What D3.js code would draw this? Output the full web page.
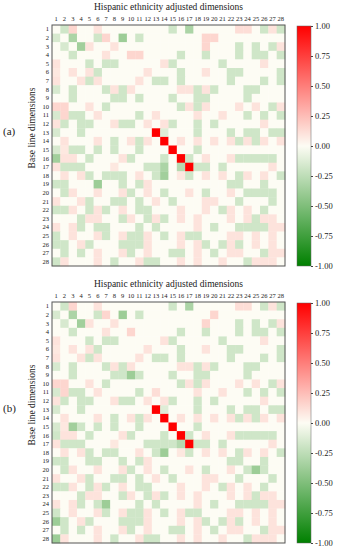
<!DOCTYPE html>
<html lang="en">
<head>
<meta charset="utf-8">
<script src="https://d3js.org/d3.v7.min.js"></script>
<style>
  body { margin: 0; background: #fff; }
  text { font-family: "Liberation Serif", "Times New Roman", serif; fill: #222; }
  .tick text { font-size: 6.5px; }
</style>
</head>
<body>
<div id="chart"></div>
<script>
// 28 dimensions on both axes
var dims = d3.range(1, 29).map(String);
var barTicks = [-1, -0.75, -0.5, -0.25, 0, 0.25, 0.5, 0.75, 1];

// (a) correlations, rows = base line dims, cols = adjusted dims
var matrixA = [
  [0,-.18,.15,0,0,.1,0,0,0,0,0,0,0,0,-.18,0,-.32,0,0,0,0,0,.12,.12,0,-.18,.1,-.18],
  [-.15,0,-.32,0,0,-.18,.15,0,-.38,0,-.18,0,0,0,0,0,0,0,.15,.15,0,0,0,0,0,0,0,0],
  [0,-.15,0,-.36,.1,0,0,.1,0,0,0,0,0,0,0,0,0,0,.15,0,0,0,-.18,0,-.18,0,-.18,.1],
  [0,0,-.18,0,0,0,.1,0,0,.15,.15,0,0,0,0,-.18,0,0,-.18,0,0,0,-.18,0,-.18,-.18,0,-.18],
  [.1,0,0,0,-.18,0,-.18,-.18,0,0,0,0,0,.1,-.18,0,0,0,0,0,-.18,0,0,0,0,.1,0,0],
  [.08,0,.1,0,.1,-.18,0,0,0,0,0,.1,0,0,0,-.18,0,0,.1,0,0,-.18,-.18,0,0,0,0,-.18],
  [.1,0,0,.1,-.18,.1,0,0,0,0,.1,0,-.18,-.18,0,-.18,0,0,0,0,0,-.18,0,0,0,-.18,0,-.18],
  [-.15,0,-.18,0,0,0,-.18,.1,-.18,.1,0,0,0,0,0,.1,.1,-.18,.1,-.18,0,0,0,-.18,-.18,0,0,0],
  [0,0,-.18,0,0,0,0,-.18,-.18,0,-.18,0,0,0,-.18,0,0,-.18,-.18,0,0,0,0,-.18,0,0,0,0],
  [.15,.15,0,0,.1,0,-.18,0,0,0,0,0,0,0,0,-.18,.1,-.18,.1,0,0,0,.1,0,.1,0,-.18,.1],
  [-.15,.15,-.18,-.18,0,.1,0,0,0,0,-.18,0,.1,0,0,0,0,.1,0,0,.1,0,0,-.18,0,-.18,0,-.18],
  [.1,-.18,0,-.18,-.18,0,0,.1,-.18,-.18,0,.1,0,.1,-.18,0,0,-.18,0,-.18,0,0,0,0,0,.1,0,0],
  [-.15,0,0,-.18,0,0,0,0,0,0,0,0,1,-.12,0,0,0,-.18,0,0,0,-.18,0,-.18,-.18,0,-.18,-.18],
  [0,.1,0,0,0,.1,0,-.18,0,.1,-.18,.1,0,1,0,.1,0,.1,0,.1,0,.1,-.18,.1,-.18,.1,0,.1],
  [-.15,.08,-.18,-.18,0,-.18,0,-.18,0,0,-.18,0,0,0,1,0,0,-.18,0,0,0,0,0,0,0,0,0,0],
  [-.36,.1,.1,0,-.18,0,0,0,.1,-.18,0,0,0,-.18,0,1,-.18,0,.1,0,0,.1,-.18,-.18,-.18,-.18,-.18,0],
  [.1,-.18,-.18,-.18,0,0,0,.08,0,0,0,-.18,-.18,-.32,0,-.28,1,-.18,-.18,0,-.18,0,0,0,0,0,.1,0],
  [0,.1,0,.1,-.18,0,-.18,-.18,-.18,0,.1,0,-.18,-.36,0,.08,-.18,0,.1,0,.1,0,-.18,.1,0,.1,0,-.18],
  [-.18,-.18,0,0,0,-.38,0,0,-.18,0,-.18,.1,0,0,0,0,0,0,0,0,0,-.18,-.18,0,0,-.18,0,0],
  [0,-.18,.1,0,0,.1,0,0,.1,-.18,0,.1,0,-.18,0,0,.1,0,-.18,0,0,.1,0,-.18,-.18,-.18,-.18,0],
  [.1,0,0,.1,-.18,0,0,-.18,-.18,0,-.18,0,.1,0,-.18,0,0,0,.1,.1,0,0,-.18,0,0,0,-.18,0],
  [-.18,-.18,.1,0,-.18,.1,-.18,0,.1,0,-.18,-.18,0,0,0,.1,0,0,.1,0,-.18,.1,0,.1,0,-.18,0,0],
  [0,0,0,-.18,.1,.1,0,0,-.18,.1,0,-.18,.1,-.18,0,.1,0,.1,0,0,0,.1,0,.1,-.18,.1,.1,0],
  [.1,0,.1,-.18,0,-.18,-.18,0,0,0,-.18,0,-.18,0,0,0,0,.1,0,-.18,0,0,-.18,-.18,-.18,-.18,.1,.1],
  [-.18,0,.1,0,0,.1,-.18,0,.1,-.18,-.18,.1,0,-.18,0,.1,-.18,-.18,0,0,0,.1,.1,0,.1,0,.1,0],
  [-.18,-.18,0,.1,-.18,0,0,0,-.18,-.18,-.18,.1,0,0,0,.1,0,.1,-.18,0,-.18,.1,-.18,0,.1,0,.1,0],
  [0,-.18,0,-.18,0,.1,0,0,.1,-.18,0,.1,0,0,-.18,-.18,0,.1,0,-.18,0,.1,.1,0,0,-.18,.1,.1],
  [-.18,.1,0,0,0,.1,0,-.18,0,0,.1,-.18,-.18,0,0,.1,0,.1,0,0,.1,0,0,-.18,.1,.1,.1,0]
];

// (b)
var matrixB = [
  [0,-.18,.15,0,0,.1,0,0,0,0,0,0,0,0,-.18,0,-.32,0,0,0,0,0,.12,.12,0,-.18,.1,-.18],
  [-.15,0,-.32,0,0,-.18,.15,0,-.38,0,-.18,0,0,0,0,0,0,0,0,.15,0,0,0,0,0,0,0,0],
  [0,-.15,0,-.36,.1,0,0,.1,0,0,0,0,0,0,0,0,0,0,.15,0,0,0,-.18,0,-.18,0,-.18,.1],
  [0,0,-.18,0,0,0,.1,0,0,.15,0,0,0,0,0,-.18,0,0,-.18,0,0,0,-.18,0,-.18,-.18,0,-.18],
  [.1,0,0,0,-.18,0,-.18,-.18,0,0,0,0,0,.1,-.18,0,0,0,0,0,-.18,0,0,0,0,.1,0,0],
  [.08,0,.1,0,.1,-.18,0,0,0,0,0,.1,0,0,0,-.18,0,0,.1,0,0,-.18,-.18,0,0,0,0,-.18],
  [.1,0,0,.1,-.18,.1,0,0,0,0,.1,0,-.18,-.18,0,-.18,0,0,0,0,0,-.18,0,0,0,-.18,0,-.18],
  [-.15,0,-.18,0,0,0,-.18,.1,-.18,.1,0,0,0,0,0,.1,.1,-.18,.1,-.18,0,0,0,-.18,-.18,0,0,0],
  [0,0,-.18,0,0,0,0,-.18,-.18,-.38,-.18,0,0,0,-.18,0,0,-.18,-.18,0,0,0,0,-.18,0,0,0,0],
  [.15,.15,0,0,.1,0,-.18,0,0,0,0,0,0,0,0,-.18,.1,-.18,.1,0,0,0,.1,0,.1,0,-.18,.1],
  [-.15,.15,-.18,-.18,0,.1,0,0,0,0,-.18,0,.12,0,0,0,0,.1,0,0,.1,0,0,-.18,0,-.18,0,-.18],
  [.1,-.18,0,-.18,-.18,0,0,.1,-.18,-.18,0,.1,0,.1,-.18,0,0,-.18,0,-.18,0,0,0,0,0,.1,0,0],
  [-.15,0,0,-.18,0,0,0,0,0,0,0,0,1,-.12,0,0,0,-.18,0,0,0,-.18,0,-.18,-.18,0,-.18,-.18],
  [0,.1,0,0,0,.1,0,-.18,0,.1,-.18,.1,0,1,0,.1,0,.1,0,.1,0,.1,-.18,.1,-.18,.1,0,.1],
  [-.15,.08,-.36,-.18,0,-.18,0,-.18,0,0,-.18,0,0,0,1,0,0,-.18,0,0,0,0,0,0,0,0,0,0],
  [-.18,.1,.1,0,-.18,0,0,0,.1,-.18,0,0,0,-.18,0,1,-.18,0,.1,0,0,.1,-.18,-.18,-.18,-.18,-.18,0],
  [.1,-.18,-.18,-.18,0,0,0,.08,0,0,0,-.18,-.18,-.18,-.18,-.28,1,-.18,-.18,0,-.18,0,0,0,0,0,.1,0],
  [0,.1,0,.1,-.18,0,-.18,-.18,0,0,.1,0,-.18,-.38,0,.08,-.18,0,.1,0,.1,0,-.18,.1,0,.1,0,-.18],
  [-.18,-.18,0,0,-.18,-.18,0,0,-.18,0,-.18,.1,0,0,0,0,0,0,0,0,0,-.18,-.18,0,0,-.18,0,0],
  [0,-.18,.1,0,0,.1,0,0,.1,-.18,0,.1,0,-.18,0,0,.1,0,-.18,0,0,.1,0,-.18,-.38,-.18,0,0],
  [.1,0,0,.1,-.18,0,0,-.18,-.18,0,-.18,0,.1,0,-.18,0,0,0,.1,.1,0,0,-.18,0,0,0,-.18,0],
  [-.18,-.18,.1,0,-.18,.1,-.18,0,.1,0,-.18,-.18,0,0,0,.1,0,0,.1,0,-.18,.1,0,.1,0,-.18,0,0],
  [0,0,0,-.18,.1,.1,0,0,-.18,.1,0,-.18,.1,-.18,0,.1,0,.1,0,0,0,.1,0,.1,-.18,.1,.1,0],
  [.1,0,.1,-.18,0,-.18,-.38,0,0,0,-.18,0,-.18,0,0,0,0,.1,0,-.18,0,0,-.18,-.18,-.18,-.18,.1,.1],
  [-.18,0,.1,0,0,.1,-.18,0,.1,-.18,-.18,.1,0,-.18,0,.1,-.18,-.18,0,0,0,.1,.1,0,.1,0,.1,0],
  [-.38,-.18,0,.1,-.18,0,0,0,-.18,-.18,-.18,.1,0,0,0,.1,0,.1,-.18,0,-.18,.1,-.18,0,.1,0,.1,0],
  [0,-.18,0,-.18,0,.1,0,0,.1,-.18,0,.1,0,0,-.18,-.18,0,.1,0,-.18,0,.1,.1,0,0,-.18,.1,.1],
  [-.38,.1,0,0,0,.1,0,-.18,0,0,.1,-.18,-.18,0,0,.1,0,.1,0,0,.1,0,0,-.18,.1,.1,.1,0]
];

var panelNames = ["(a)", "(b)"];
var panelTops = [25, 302];

var W = 339, H = 550;
var hmLeft = 52, hmRight = 285, hmHeight = 241;
var barX = 297, barW = 14;

var color = d3.scaleLinear()
  .domain([-1, 0, 1])
  .range(["#008000", "#fdfcf4", "#ff0000"]);

var svg = d3.select("#chart").append("svg")
  .attr("width", W)
  .attr("height", H);

// gradient for colour bar
var grad = svg.append("defs").append("linearGradient")
  .attr("id", "cbar")
  .attr("x1", 0).attr("y1", 1).attr("x2", 0).attr("y2", 0);
grad.selectAll("stop")
  .data(d3.range(0, 1.001, 0.05))
  .enter().append("stop")
    .attr("offset", function(d) { return d; })
    .attr("stop-color", function(d) { return color(d * 2 - 1); });

var x = d3.scaleBand().domain(dims).range([hmLeft, hmRight]);

function drawPanel(matrix, top, name) {
  var g = svg.append("g");
  var y = d3.scaleBand().domain(dims).range([top, top + hmHeight]);

  g.append("text")
    .attr("x", (hmLeft + hmRight) / 2)
    .attr("y", top - 15)
    .attr("text-anchor", "middle")
    .style("font-size", "9.5px")
    .text("Hispanic ethnicity adjusted dimensions");

  // cells
  g.selectAll("g.row")
    .data(matrix)
    .enter().append("g")
      .attr("class", "row")
      .each(function(row, i) {
        d3.select(this).selectAll("rect")
          .data(row)
          .enter().append("rect")
            .attr("x", function(d, j) { return x(dims[j]); })
            .attr("y", y(dims[i]))
            .attr("width", x.bandwidth() + 0.3)
            .attr("height", y.bandwidth() + 0.3)
            .attr("fill", function(d) { return color(d); });
      });

  // frame
  g.append("rect")
    .attr("x", hmLeft).attr("y", top)
    .attr("width", hmRight - hmLeft).attr("height", hmHeight)
    .attr("fill", "none")
    .attr("stroke", "#555")
    .attr("stroke-width", 1);

  var xAxis = g.append("g")
    .attr("transform", "translate(0," + top + ")")
    .call(d3.axisTop(x).tickSize(0).tickPadding(4));
  xAxis.select(".domain").remove();

  var yAxis = g.append("g")
    .attr("transform", "translate(" + hmLeft + ",0)")
    .call(d3.axisLeft(y).tickSize(0).tickPadding(3));
  yAxis.select(".domain").remove();

  g.append("text")
    .attr("transform", "translate(35," + (top + 103) + ") rotate(-90)")
    .attr("text-anchor", "middle")
    .style("font-size", "9.5px")
    .text("Base line dimensions");

  g.append("text")
    .attr("x", 3)
    .attr("y", top + 110)
    .style("font-size", "11px")
    .text(name);

  // colour bar
  var cb = d3.scaleLinear().domain([-1, 1]).range([top + hmHeight, top + 1]);
  g.append("rect")
    .attr("x", barX).attr("y", top + 1)
    .attr("width", barW).attr("height", hmHeight - 1)
    .attr("fill", "url(#cbar)")
    .attr("stroke", "#666")
    .attr("stroke-width", 0.5);

  var cAxis = g.append("g")
    .attr("transform", "translate(" + (barX + barW) + ",0)")
    .call(d3.axisRight(cb).tickValues(barTicks).tickSize(2).tickPadding(2)
      .tickFormat(function(d) { return d.toFixed(2); }));
  cAxis.select(".domain").remove();
  cAxis.selectAll(".tick text").style("font-size", "8.5px");
  cAxis.selectAll(".tick line").attr("stroke", "#444");
}

drawPanel(matrixA, panelTops[0], panelNames[0]);
drawPanel(matrixB, panelTops[1], panelNames[1]);
</script>
</body>
</html>
